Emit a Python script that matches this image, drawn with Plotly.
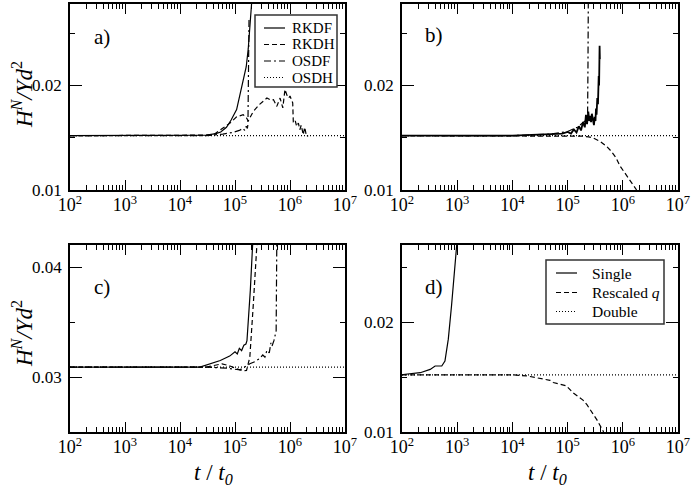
import plotly.graph_objects as go

# ---- data (t/t0, H^N/Yd^2) ----
# panel a
a_rkdf_t = [1e2, 1e4, 3e4, 4.5e4, 5.5e4, 7e4, 8.5e4, 1.07e5, 1.2e5, 1.4e5, 1.6e5, 1.74e5, 1.9e5, 2.0e5]
a_rkdf_h = [0.0152, 0.0152, 0.01525, 0.0154, 0.01555, 0.0160, 0.0167, 0.0177, 0.0188, 0.0203, 0.0218, 0.0235, 0.0258, 0.0278]
a_rkdh_t = [1e2, 1e4, 3e4, 4.1e4, 8.1e4, 1.07e5, 1.41e5, 1.62e5, 1.74e5, 2.14e5, 2.8e5, 3.8e5, 4.5e5, 5.0e5,
            5.75e5, 6.6e5, 7.4e5, 8.1e5, 8.9e5, 9.5e5, 1.0e6, 1.12e6, 1.15e6, 1.25e6, 1.32e6, 1.42e6,
            1.51e6, 1.6e6, 1.74e6, 1.85e6, 2.0e6, 2.14e6]
a_rkdh_h = [0.0152, 0.0152, 0.01525, 0.0153, 0.0164, 0.0170, 0.0172, 0.0169, 0.0166, 0.0175, 0.0182, 0.0188,
            0.0186, 0.01865, 0.0180, 0.0188, 0.01786, 0.01962, 0.0190, 0.0188, 0.0190, 0.01834, 0.01641,
            0.0166, 0.01609, 0.0164, 0.01577, 0.0162, 0.01529, 0.0160, 0.01513, 0.0152]
a_osdf_t = [1e2, 1e4, 3e4, 6e4, 9e4, 1.2e5, 1.4e5, 1.5e5, 1.6e5, 1.68e5, 1.72e5, 1.8e5]
a_osdf_h = [0.0152, 0.0152, 0.0152, 0.01535, 0.0155, 0.0157, 0.0159, 0.0157, 0.0161, 0.0159, 0.0163, 0.0265]
a_osdh_t = [1e2, 1e7]
a_osdh_h = [0.0152, 0.0152]

# panel b
b_rkdf_t = [1e2, 1e4, 5e4, 8e4, 1.0e5, 1.15e5, 1.3e5, 1.45e5, 1.6e5, 1.75e5, 1.9e5, 2.05e5, 2.15e5, 2.25e5,
            2.37e5, 2.47e5, 2.57e5, 2.66e5, 2.75e5, 2.88e5, 3.0e5, 3.1e5, 3.2e5, 3.27e5, 3.35e5, 3.45e5,
            3.55e5, 3.66e5, 3.72e5, 3.8e5, 3.84e5]
b_rkdf_h = [0.0152, 0.0152, 0.01535, 0.0154, 0.01555, 0.0154, 0.0158, 0.0155, 0.0161, 0.0157, 0.0165, 0.0160,
            0.0172, 0.0163, 0.0175, 0.0166, 0.0171, 0.0165, 0.0173, 0.0164, 0.0162, 0.0170, 0.0166, 0.0178,
            0.0172, 0.0188, 0.0182, 0.0209, 0.0200, 0.0238, 0.0225]
b_rkdh_t = [1e2, 1e4, 1e5, 1.9e5, 2.4e5, 2.95e5, 3.9e5, 5.1e5, 6.2e5, 7.5e5, 8.9e5, 1.1e6, 1.35e6, 1.55e6, 1.78e6]
b_rkdh_h = [0.0152, 0.0152, 0.0152, 0.01515, 0.01508, 0.01497, 0.01465, 0.01417, 0.0137, 0.0131, 0.0123,
            0.0116, 0.0108, 0.0104, 0.0100]
b_osdf_t = [1e2, 1e4, 5e4, 1e5, 1.5e5, 2.0e5, 2.3e5, 2.34e5, 2.37e5]
b_osdf_h = [0.0152, 0.0152, 0.01535, 0.0156, 0.0160, 0.0165, 0.0168, 0.0220, 0.0278]
b_osdh_t = [1e2, 1e7]
b_osdh_h = [0.0152, 0.0152]

# panel c
c_rkdf_t = [1e2, 1e4, 2.3e4, 5.4e4, 8e4, 1.0e5, 1.1e5, 1.2e5, 1.32e5, 1.45e5, 1.58e5, 1.65e5, 1.74e5, 1.9e5, 2.09e5]
c_rkdf_h = [0.0309, 0.0309, 0.0309, 0.0315, 0.0319, 0.0323, 0.0321, 0.0326, 0.0324, 0.0329, 0.0330, 0.0333,
            0.0349, 0.0379, 0.0420]
c_rkdh_t = [1e2, 1e4, 3e4, 5.8e4, 8.1e4, 1.07e5, 1.41e5, 1.62e5, 1.86e5, 2.14e5, 2.4e5, 2.5e5]
c_rkdh_h = [0.0309, 0.0309, 0.0309, 0.0312, 0.0310, 0.03076, 0.03055, 0.0306, 0.0318, 0.0364, 0.0406, 0.0420]
c_osdf_t = [1e2, 1e4, 3e4, 7e4, 1.0e5, 1.23e5, 1.5e5, 1.86e5, 2.3e5, 2.8e5, 3.2e5, 3.5e5, 3.8e5, 4.2e5,
            4.5e5, 4.7e5, 5.1e5, 5.4e5, 5.6e5, 5.75e5]
c_osdf_h = [0.0309, 0.0309, 0.0309, 0.0308, 0.0307, 0.03065, 0.0309, 0.0312, 0.0314, 0.03167, 0.0320, 0.0318,
            0.03243, 0.0322, 0.0331, 0.0328, 0.0333, 0.0338, 0.0342, 0.0420]
c_osdh_t = [1e2, 1e7]
c_osdh_h = [0.0309, 0.0309]

# panel d
d_single_t = [1e2, 1.05e2, 2.14e2, 3.24e2, 3.98e2, 5.25e2, 6.0e2, 6.9e2, 7.9e2, 9.1e2, 9.8e2]
d_single_h = [0.0152, 0.01523, 0.01539, 0.01569, 0.0160, 0.0160, 0.01645, 0.01844, 0.0215, 0.02517, 0.0270]
d_resc_t = [1e2, 1e4, 1.82e4, 3e4, 4.8e4, 5.5e4, 9.5e4, 1.26e5, 1.9e5, 2.24e5, 3.4e5, 4.5e5]
d_resc_h = [0.0152, 0.0152, 0.0151, 0.0149, 0.0147, 0.0145, 0.0142, 0.01355, 0.0129, 0.01248, 0.0111, 0.0100]
d_double_t = [1e2, 1e7]
d_double_h = [0.0152, 0.0152]

x_ticks = [1e2, 1e3, 1e4, 1e5, 1e6, 1e7]
x_ticklabels = ['10<sup>2</sup>', '10<sup>3</sup>', '10<sup>4</sup>', '10<sup>5</sup>', '10<sup>6</sup>', '10<sup>7</sup>']
x_minor = [k * 10 ** e for e in range(2, 7) for k in range(2, 10)]

legend_a_names = ['RKDF', 'RKDH', 'OSDF', 'OSDH']
legend_a_dashes = ['solid', 'dash', 'dashdot', 'dot']
legend_d_names = ['Single', 'Rescaled <i>q</i>', 'Double']
legend_d_dashes = ['solid', 'dash', 'dot']

FONT = 'Liberation Serif'
DASH = {'solid': 'solid', 'dash': '5px,3px', 'dashdot': '7px,3px,2px,3px', 'dot': '1px,2px'}
W, H = 692, 490

fig = go.Figure()


def add_line(t, h, xa, ya, dash, name, width=1.2):
    fig.add_trace(go.Scatter(
        x=t, y=h, mode='lines', name=name, xaxis=xa, yaxis=ya,
        line=dict(color='black', width=width, dash=DASH[dash]),
        showlegend=False, hoverinfo='skip'))


add_line(a_rkdf_t, a_rkdf_h, 'x', 'y', 'solid', 'RKDF')
add_line(a_rkdh_t, a_rkdh_h, 'x', 'y', 'dash', 'RKDH')
add_line(a_osdf_t, a_osdf_h, 'x', 'y', 'dashdot', 'OSDF')
add_line(a_osdh_t, a_osdh_h, 'x', 'y', 'dot', 'OSDH')

add_line(b_rkdf_t, b_rkdf_h, 'x2', 'y2', 'solid', 'RKDF', width=1.8)
add_line(b_rkdh_t, b_rkdh_h, 'x2', 'y2', 'dash', 'RKDH')
add_line(b_osdf_t, b_osdf_h, 'x2', 'y2', 'dashdot', 'OSDF')
add_line(b_osdh_t, b_osdh_h, 'x2', 'y2', 'dot', 'OSDH')

add_line(c_rkdf_t, c_rkdf_h, 'x3', 'y3', 'solid', 'RKDF')
add_line(c_rkdh_t, c_rkdh_h, 'x3', 'y3', 'dash', 'RKDH')
add_line(c_osdf_t, c_osdf_h, 'x3', 'y3', 'dashdot', 'OSDF')
add_line(c_osdh_t, c_osdh_h, 'x3', 'y3', 'dot', 'OSDH')

add_line(d_single_t, d_single_h, 'x4', 'y4', 'solid', 'Single')
add_line(d_resc_t, d_resc_h, 'x4', 'y4', 'dash', 'Rescaled q')
add_line(d_double_t, d_double_h, 'x4', 'y4', 'dot', 'Double')


def xaxis_cfg(domain, anchor):
    return dict(type='log', range=[2, 7], domain=domain, anchor=anchor, automargin=False,
                tickmode='array', tickvals=x_ticks, ticktext=x_ticklabels,
                ticks='inside', ticklen=10, tickwidth=1.2, tickcolor='black',
                minor=dict(tickmode='array', tickvals=x_minor, ticks='inside', ticklen=5,
                           tickwidth=1, tickcolor='black', showgrid=False),
                showline=True, linecolor='black', linewidth=1.5, mirror='ticks',
                showgrid=False, zeroline=False, ticklabelstandoff=-2,
                tickfont=dict(family=FONT, size=18, color='black'))


def yaxis_cfg(domain, anchor, rng, ticks, minor):
    return dict(range=rng, domain=domain, anchor=anchor, automargin=False,
                tickmode='array', tickvals=ticks, ticktext=[f'{v:.2f}' for v in ticks],
                ticks='inside', ticklen=12, tickwidth=1.2, tickcolor='black',
                minor=dict(tickmode='array', tickvals=minor, ticks='inside', ticklen=5,
                           tickwidth=1, tickcolor='black', showgrid=False),
                showline=True, linecolor='black', linewidth=1.5, mirror='ticks',
                showgrid=False, zeroline=False, ticklabelstandoff=3,
                tickfont=dict(family=FONT, size=17, color='black'))


xl = [70 / W, 345 / W]
xr = [402 / W, 678 / W]
yt = [1 - 190 / H, 1 - 4 / H]
yb = [1 - 432 / H, 1 - 245 / H]

fig.update_layout(
    width=W, height=H,
    margin=dict(l=0, r=0, t=0, b=0, autoexpand=False),
    paper_bgcolor='white', plot_bgcolor='white',
    font=dict(family=FONT, color='black'),
    showlegend=False,
    xaxis=xaxis_cfg(xl, 'y'),
    xaxis2=xaxis_cfg(xr, 'y2'),
    xaxis3=xaxis_cfg(xl, 'y3'),
    xaxis4=xaxis_cfg(xr, 'y4'),
    yaxis=yaxis_cfg(yt, 'x', [0.01, 0.0278], [0.01, 0.02], [0.015, 0.025]),
    yaxis2=yaxis_cfg(yt, 'x2', [0.01, 0.0278], [0.01, 0.02], [0.015, 0.025]),
    yaxis3=yaxis_cfg(yb, 'x3', [0.025, 0.042], [0.03, 0.04], [0.035]),
    yaxis4=yaxis_cfg(yb, 'x4', [0.01, 0.027], [0.01, 0.02], [0.015, 0.025]),
)


def px_x(v):
    return v / W


def px_y(v):
    return 1 - v / H


def draw_legend(box, rows, sample_x, text_x, names, dashes, size):
    # box = (x0, y0, x1, y1) in pixels
    fig.add_shape(type='rect', xref='paper', yref='paper',
                  x0=px_x(box[0]), x1=px_x(box[2]), y0=px_y(box[3]), y1=px_y(box[1]),
                  line=dict(color='#333', width=1.5), fillcolor='white', layer='above')
    for ry, name, dash in zip(rows, names, dashes):
        fig.add_shape(type='line', xref='paper', yref='paper',
                      x0=px_x(sample_x[0]), x1=px_x(sample_x[1]), y0=px_y(ry), y1=px_y(ry),
                      line=dict(color='black', width=1.2, dash=DASH[dash]), layer='above')
        fig.add_annotation(text=name, xref='paper', yref='paper', x=px_x(text_x), y=px_y(ry),
                           xanchor='left', yanchor='middle', showarrow=False,
                           font=dict(family=FONT, size=size, color='black'))


draw_legend((255, 15, 337, 87), [28, 44.5, 61, 77.5], (264, 285), 290,
            legend_a_names, legend_a_dashes, 15)
draw_legend((546, 260, 664, 324), [273, 292.5, 311.5], (556, 577), 590,
            legend_d_names, legend_d_dashes, 15.5)

ytitle = '<i>H</i><sup><i>N</i></sup><i>/Yd</i><sup>2</sup>'
xtitle = '<i>t</i> / <i>t</i><sub><i>0</i></sub>'
annos = [
    dict(text='a)', x=px_x(92), y=px_y(37)),
    dict(text='b)', x=px_x(423), y=px_y(35)),
    dict(text='c)', x=px_x(92), y=px_y(287)),
    dict(text='d)', x=px_x(423), y=px_y(287)),
]
for a in annos:
    fig.add_annotation(xref='paper', yref='paper', showarrow=False, xanchor='left', yanchor='middle',
                       font=dict(family=FONT, size=21, color='black'), **a)
for yc in [px_y(95), px_y(334)]:
    fig.add_annotation(text=ytitle, xref='paper', yref='paper', x=px_x(22), y=yc, textangle=-90,
                       showarrow=False, xanchor='center', yanchor='middle',
                       font=dict(family=FONT, size=23, color='black'))
for xc in [px_x(213), px_x(547)]:
    fig.add_annotation(text=xtitle, xref='paper', yref='paper', x=xc, y=px_y(474),
                       showarrow=False, xanchor='center', yanchor='middle',
                       font=dict(family=FONT, size=23, color='black'))

# the page body has a default 8px margin; drop it so the figure sits at the window origin
fig.write_html('out.html', config={'displayModeBar': False},
               post_script="document.body.style.margin='0';")
